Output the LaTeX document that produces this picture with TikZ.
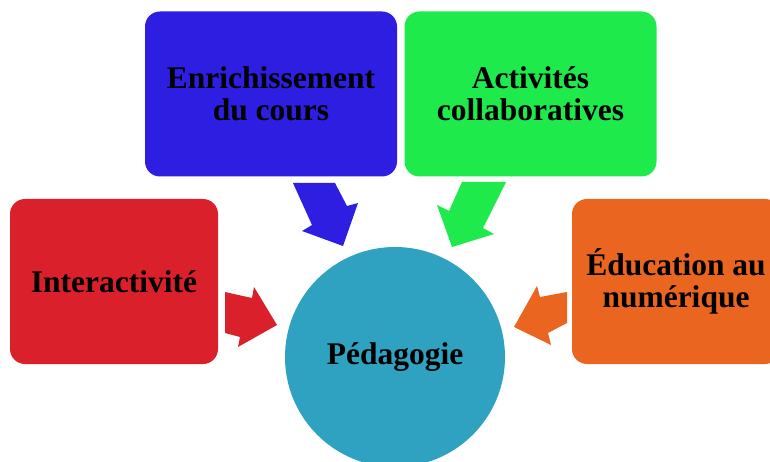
\documentclass[tikz,border=0pt]{standalone}
\usepackage{fontspec}
\setmainfont{Liberation Serif}
\definecolor{cblue}{RGB}{46,30,226}
\definecolor{cgreen}{RGB}{30,234,76}
\definecolor{cred}{RGB}{218,32,42}
\definecolor{corange}{RGB}{234,101,32}
\definecolor{cteal}{RGB}{46,162,192}
\begin{document}
\begin{tikzpicture}[x=1pt,y=-1pt,
  lbl/.style={font=\fontsize{31.5}{31.7}\selectfont\bfseries, text=black, align=center, inner sep=0pt},
  box/.style={lbl, rounded corners=15pt, minimum width=#1, minimum height=165pt},
  box/.default=252pt,
  hub/.style={lbl, circle, minimum size=220pt}]
\useasboundingbox (0,0) rectangle (770,462);
\clip (0,0) rectangle (770,462);
\fill[white] (0,0) rectangle (770,462);
% boxes
\node[box, fill=cblue] (enr) at (271,94) {Enrichissement\\du cours};
\node[box, fill=cgreen] (act) at (530.5,94) {Activités\\collaboratives};
\node[box=208pt, fill=cred] (int) at (114,281.5) {Interactivité};
\node[box=208pt, fill=corange] (edu) at (676,281.5) {Éducation au\\numérique};
\node[hub, fill=cteal] (ped) at (395,357) {Pédagogie};
% block arrows
\fill[cblue] (293,183) -- (335,183) -- (347,206) -- (358,203) -- (343,246) -- (302,231) -- (312,225) -- cycle;
\fill[cgreen] (462,182) -- (506,182) -- (483,228) -- (494,234) -- (452,247) -- (437,205) -- (449,211) -- cycle;
\fill[cred] (225,292) -- (252,298) -- (254,287) -- (277,325) -- (238,347) -- (240,337) -- (225,333) -- cycle;
\fill[corange] (567,292) -- (540,297) -- (537,286) -- (514,327) -- (551,345) -- (548,333) -- (567,323) -- cycle;
\end{tikzpicture}
\end{document}
